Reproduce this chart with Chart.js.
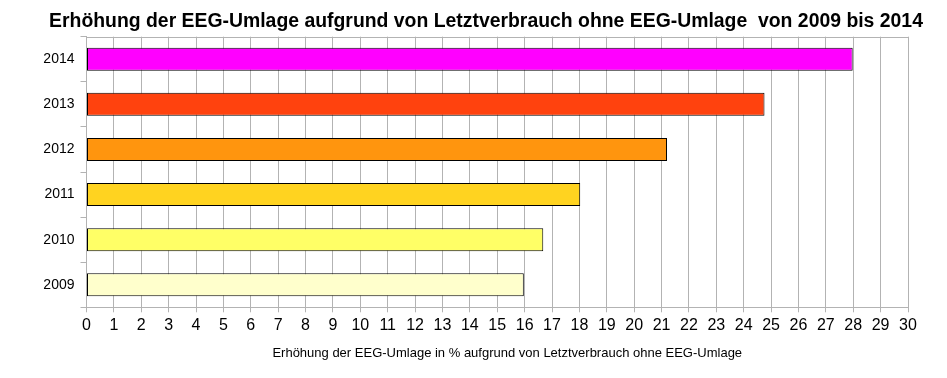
<!DOCTYPE html>
<html>
<head>
<meta charset="utf-8">
<script src="https://cdn.jsdelivr.net/npm/chart.js@4/dist/chart.umd.min.js"></script>
<style>
html,body{margin:0;padding:0;background:#fff;}
#wrap{position:relative;width:947px;height:378px;}
</style>
</head>
<body>
<div id="wrap"><canvas id="c" width="947" height="378"></canvas></div>
<script>
const years = ['2014', '2013', '2012', '2011', '2010', '2009'];
const increasePercent = [27.98, 24.76, 21.2, 18.03, 16.68, 15.97];
const barColors = ['#FF00FF', '#FF420E', '#FF950E', '#FFD320', '#FFFF66', '#FFFFCC'];
const xTickMin = 0;
const xTickMax = 30;
const xTickStep = 1;
const chartTitle = 'Erhöhung der EEG-Umlage aufgrund von Letztverbrauch ohne EEG-Umlage  von 2009 bis 2014';
const xAxisTitle = 'Erhöhung der EEG-Umlage in % aufgrund von Letztverbrauch ohne EEG-Umlage';

const GRID = '#b3b3b3';
const FONT = '"Liberation Sans", Arial, sans-serif';

const framePlugin = {
  id: 'frame',
  beforeDatasetsDraw(chart) {
    const {ctx, chartArea} = chart;
    ctx.save();
    ctx.strokeStyle = GRID;
    ctx.lineWidth = 1;
    ctx.beginPath();
    ctx.moveTo(chartArea.left, Math.round(chartArea.top) + 0.5);
    ctx.lineTo(chartArea.right, Math.round(chartArea.top) + 0.5);
    ctx.stroke();
    ctx.restore();
  },
  afterDraw(chart) {
    const {ctx, chartArea} = chart;
    ctx.save();
    ctx.fillStyle = '#000';
    ctx.textAlign = 'center';
    ctx.textBaseline = 'middle';
    ctx.font = 'bold 19.4px ' + FONT;
    ctx.fillText(chartTitle, 486, 22);
    ctx.font = '13px ' + FONT;
    ctx.fillText(xAxisTitle, (chartArea.left + chartArea.right) / 2 + 10, chartArea.bottom + 46);
    ctx.restore();
  }
};

new Chart(document.getElementById('c'), {
  type: 'bar',
  data: {
    labels: years,
    datasets: [{
      data: increasePercent,
      backgroundColor: barColors,
      borderColor: '#000',
      borderWidth: 1,
      borderSkipped: false,
      barPercentage: 0.51,
      categoryPercentage: 1.0
    }]
  },
  options: {
    indexAxis: 'y',
    responsive: false,
    animation: false,
    devicePixelRatio: 1,
    layout: { padding: { left: 0, right: 39, top: 36.7, bottom: 38.5 } },
    plugins: {
      legend: { display: false },
      tooltip: { enabled: false },
      title: { display: false }
    },
    scales: {
      x: {
        min: xTickMin,
        max: xTickMax,
        ticks: {
          stepSize: xTickStep,
          color: '#000',
          padding: 4,
          font: { family: FONT, size: 16 },
          maxRotation: 0,
          autoSkip: false
        },
        grid: { color: GRID, lineWidth: 1, tickLength: 5, drawTicks: true },
        border: { color: GRID, width: 1 }
      },
      y: {
        afterFit(scale) { scale.width = 86.5; },
        ticks: {
          color: '#000',
          padding: 6,
          font: { family: FONT, size: 14 }
        },
        grid: { color: GRID, lineWidth: 1, drawOnChartArea: false, tickLength: 6, offset: true },
        border: { color: GRID, width: 1 }
      }
    }
  },
  plugins: [framePlugin]
});
</script>
</body>
</html>
